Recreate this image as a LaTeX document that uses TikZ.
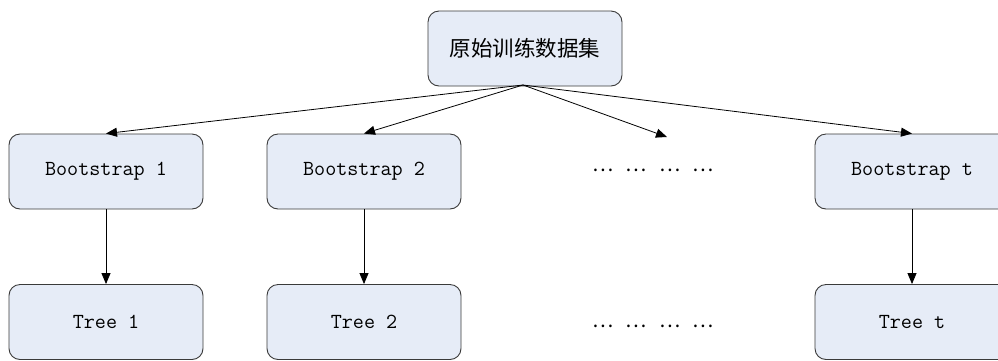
\documentclass[tikz,border=0pt]{standalone}
\usepackage{fontspec}
\newfontfamily\cjk{Noto Sans CJK SC}
\usetikzlibrary{arrows.meta}
\definecolor{boxfill}{HTML}{E6ECF7}
\definecolor{boxline}{HTML}{3A3A3A}
\tikzset{
  block/.style={draw=boxline, fill=boxfill, line width=0.9pt, rounded corners=11pt,
    minimum width=194pt, minimum height=75pt, inner sep=0pt,
    font=\ttfamily\fontsize{21.5}{24}\selectfont},
  link/.style={line width=0.8pt, -{Triangle[length=11pt,width=9pt]}},
  dotsrow/.style={font=\cjk\fontsize{20}{24}\selectfont, inner sep=0pt}
}
\begin{document}
\begin{tikzpicture}[x=1pt,y=-1pt]
\useasboundingbox (0,0) rectangle (998,360);
% root
\node[block, font=\cjk\fontsize{21.5}{24}\selectfont] (root) at (525,48.5) {原始训练数据集};
% bootstrap samples
\node[block] (b1) at (106,171.5) {Bootstrap 1};
\node[block] (b2) at (364,171.5) {Bootstrap 2};
\node[block] (bt) at (912,171.5) {Bootstrap t};
\node[dotsrow] (bd) at (653,170) {…\hspace{12pt}…\hspace{12pt}…\hspace{12pt}…};
\coordinate (bdtop) at (667,137);
% trees
\node[block] (t1) at (106,322) {Tree 1};
\node[block] (t2) at (364,322) {Tree 2};
\node[block] (tt) at (912,322) {Tree t};
\node[dotsrow] (td) at (653,326) {…\hspace{12pt}…\hspace{12pt}…\hspace{12pt}…};
% connectors
\coordinate (src) at (523,85);
\draw[link] (src) -- (b1.north);
\draw[link] (src) -- (b2.north);
\draw[link] (src) -- (bdtop);
\draw[link] (src) -- (bt.north);
\draw[link] (b1) -- (t1);
\draw[link] (b2) -- (t2);
\draw[link] (bt) -- (tt);
\end{tikzpicture}
\end{document}
